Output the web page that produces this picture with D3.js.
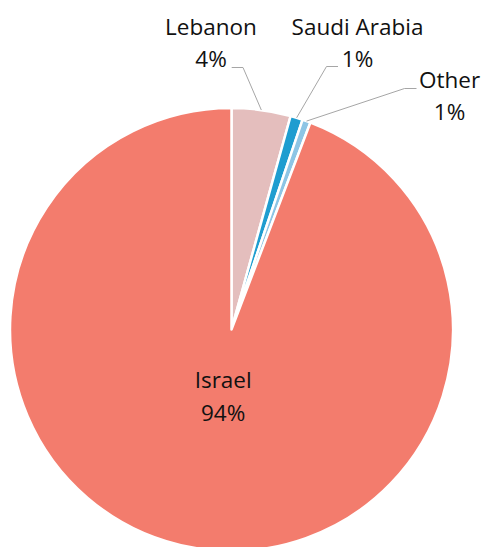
<!DOCTYPE html>
<html>
<head>
<meta charset="utf-8">
<script src="https://cdn.jsdelivr.net/npm/d3@7"></script>
<style>
  body { margin: 0; background: #fff; }
  svg text { font-family: "Open Sans", sans-serif; fill: #111; }
</style>
</head>
<body>
<div id="chart"></div>
<script>
// Shares of the total, clockwise from 12 o'clock
const countries = ["Lebanon", "Saudi Arabia", "Other", "Israel"];
const shares = [4.3, 0.9, 0.6, 94.2];
const colors = ["#e4bebd", "#1f9dd0", "#8dc5e5", "#f37c6d"];

const width = 484, height = 547;
const cx = 231.5, cy = 329.5, radius = 221.5;

const svg = d3.select("#chart")
    .append("svg")
    .attr("width", width)
    .attr("height", height);

const g = svg.append("g")
    .attr("transform", `translate(${cx},${cy})`);

const data = countries.map((c, i) => ({ name: c, value: shares[i], color: colors[i] }));

const pie = d3.pie().sort(null).value(d => d.value);
const arc = d3.arc().innerRadius(0).outerRadius(radius);
const arcs = pie(data);

g.selectAll("path.slice")
    .data(arcs)
    .enter().append("path")
    .attr("class", "slice")
    .attr("d", arc)
    .attr("fill", d => d.data.color)
    .attr("stroke", "#fff")
    .attr("stroke-width", 2.5)
    .attr("stroke-linejoin", "round");

// point on the rim at the middle of a slice
function rimPoint(d, r) {
    const a = (d.startAngle + d.endAngle) / 2;
    return [Math.sin(a) * r, -Math.cos(a) * r];
}

// outside labels (positions relative to the pie centre)
const outside = {
    "Lebanon":      { x: -20.5, y: -294.5, elbow: [11.5, -262], anchor: 0.2 },
    "Saudi Arabia": { x: 126,   y: -294.5, elbow: [95, -263],   anchor: 106.5 },
    "Other":        { x: 218,   y: -241.5, elbow: [173, -241],  anchor: 185 }
};

arcs.forEach(d => {
    const lab = outside[d.data.name];
    if (!lab) return;
    const p = rimPoint(d, radius);
    g.append("polyline")
        .attr("points", [p, lab.elbow, [lab.anchor, lab.elbow[1]]].map(q => q.join(",")).join(" "))
        .attr("fill", "none")
        .attr("stroke", "#a6a6a6")
        .attr("stroke-width", 1);
    const t = g.append("text")
        .attr("text-anchor", "middle")
        .style("font-size", "22.5px");
    t.append("tspan").attr("x", lab.x).attr("y", lab.y).text(d.data.name);
    t.append("tspan").attr("x", lab.x).attr("y", lab.y + 32).text(Math.round(d.data.value) + "%");
});

// inside label for the big slice
const inner = d3.arc().innerRadius(0).outerRadius(92);
arcs.filter(d => d.data.name === "Israel").forEach(d => {
    const c = inner.centroid(d);
    const t = g.append("text")
        .attr("text-anchor", "middle")
        .style("font-size", "22.5px");
    t.append("tspan").attr("x", c[0]).attr("y", c[1] + 13).text(d.data.name);
    t.append("tspan").attr("x", c[0]).attr("y", c[1] + 46).text(Math.round(d.data.value) + "%");
});
</script>
</body>
</html>
